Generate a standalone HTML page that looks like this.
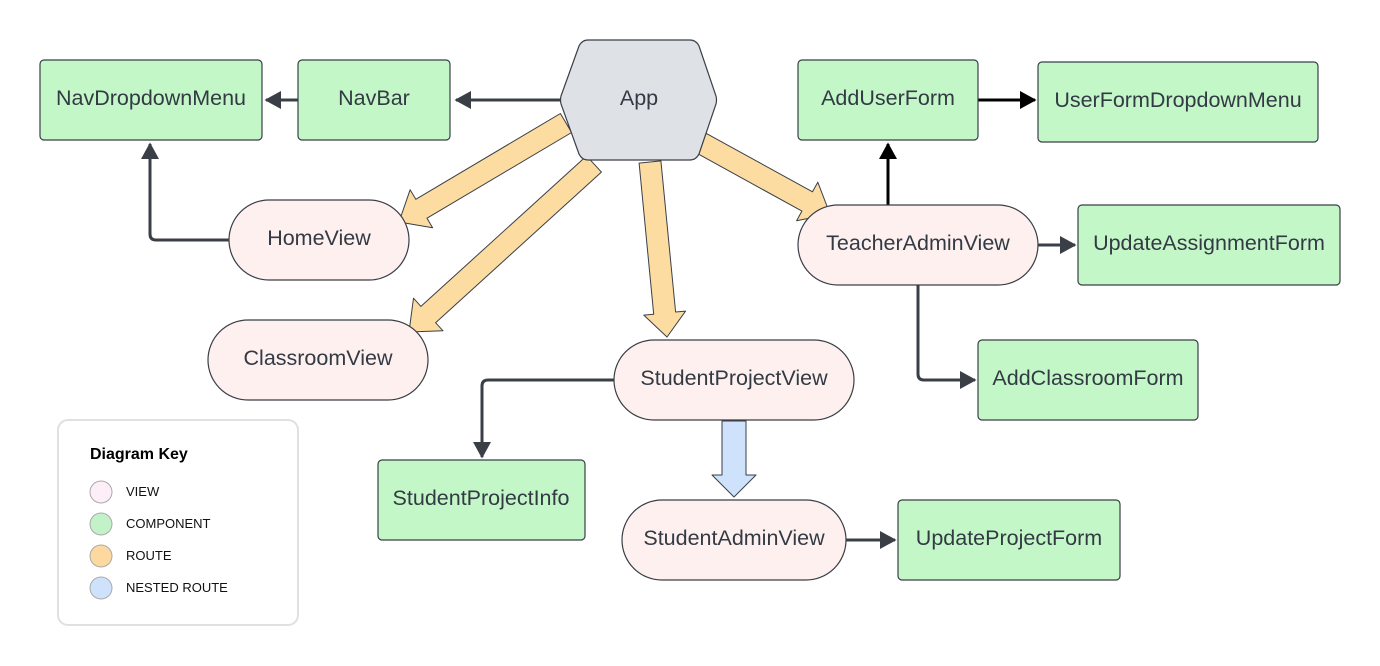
<!DOCTYPE html>
<html><head><meta charset="utf-8"><style>
html,body{margin:0;padding:0;background:#fff;width:1380px;height:666px;overflow:hidden}
svg text{font-family:"Liberation Sans",sans-serif;fill:#333a44}
</style></head><body>
<svg id="s" width="1380" height="666" viewBox="0 0 1380 666" xmlns="http://www.w3.org/2000/svg">
<defs>
<marker id="ah" markerWidth="6" markerHeight="6" refX="5" refY="3" orient="auto" markerUnits="strokeWidth"><path d="M0,0 L5.5,3 L0,6z" fill="#3a3f47"/></marker>
<marker id="ahb" markerWidth="6" markerHeight="6" refX="5" refY="3" orient="auto" markerUnits="strokeWidth"><path d="M0,0 L5.5,3 L0,6z" fill="#000"/></marker>
</defs>
<g id="routes"></g>
<g fill="none" stroke="#3a3f47" stroke-width="3">
<path d="M560 100 H456" marker-end="url(#ah)"/>
<path d="M298 100 H266" marker-end="url(#ah)"/>
<path d="M229 240 H156 Q150 240 150 234 V144" marker-end="url(#ah)"/>
<path d="M614 380 H488 Q482 380 482 386 V457" marker-end="url(#ah)"/>
<path d="M846 540 H895" marker-end="url(#ah)"/>
<path d="M1038 245 H1075" marker-end="url(#ah)"/>
<path d="M918 285 V374 Q918 380 924 380 H975" marker-end="url(#ah)"/>
<path d="M888 205 V144" stroke="#000" marker-end="url(#ahb)"/>
<path d="M978 100 H1035" stroke="#000" marker-end="url(#ahb)"/>
</g>
<g stroke="#3a3f47" stroke-width="1.2">
<path d="M561 96 L579 46 Q582 40 588 40 H690 Q696 40 699 46 L716 96 Q717 100 716 104 L699 154 Q696 160 690 160 H588 Q582 160 579 154 L561 104 Q560 100 561 96z" fill="#dee1e6"/>
<g fill="#c3f7c8">
<rect x="40" y="60" width="222" height="80" rx="4"/>
<rect x="298" y="60" width="152" height="80" rx="4"/>
<rect x="798" y="60" width="180" height="80" rx="4"/>
<rect x="1038" y="62" width="280" height="80" rx="4"/>
<rect x="1078" y="205" width="262" height="80" rx="4"/>
<rect x="978" y="340" width="220" height="80" rx="4"/>
<rect x="378" y="460" width="207" height="80" rx="4"/>
<rect x="898" y="500" width="222" height="80" rx="4"/>
</g>
<g fill="#fdf0ef">
<rect x="229" y="200" width="180" height="80" rx="40"/>
<rect x="208" y="320" width="220" height="80" rx="40"/>
<rect x="614" y="340" width="240" height="80" rx="40"/>
<rect x="622" y="500" width="224" height="80" rx="40"/>
<rect x="798" y="205" width="240" height="80" rx="40"/>
</g>
</g>
<g font-size="21.5" text-anchor="middle">
<text x="639" y="105">App</text>
<text x="151" y="105">NavDropdownMenu</text>
<text x="374" y="105">NavBar</text>
<text x="888" y="105">AddUserForm</text>
<text x="1178" y="107">UserFormDropdownMenu</text>
<text x="1209" y="250">UpdateAssignmentForm</text>
<text x="1088" y="385">AddClassroomForm</text>
<text x="481" y="505">StudentProjectInfo</text>
<text x="1009" y="545">UpdateProjectForm</text>
<text x="319" y="245">HomeView</text>
<text x="318" y="365">ClassroomView</text>
<text x="734" y="385">StudentProjectView</text>
<text x="734" y="545">StudentAdminView</text>
<text x="918" y="250">TeacherAdminView</text>
</g>
<rect x="58" y="420" width="240" height="205" rx="10" fill="#fff" stroke="#e0e0e0" stroke-width="2"/>
<text x="90" y="459" font-size="16" font-weight="bold" style="fill:#000">Diagram Key</text>
<g stroke="#aaa" stroke-width="1">
<circle cx="101" cy="492" r="11" fill="#fdeef8"/>
<circle cx="101" cy="524" r="11" fill="#c3f2c9"/>
<circle cx="101" cy="556" r="11" fill="#fdd9a0"/>
<circle cx="101" cy="588" r="11" fill="#cfe2fb"/>
</g>
<g font-size="13">
<text x="126" y="496" style="fill:#111">VIEW</text>
<text x="126" y="528" style="fill:#111">COMPONENT</text>
<text x="126" y="560" style="fill:#111">ROUTE</text>
<text x="126" y="592" style="fill:#111">NESTED ROUTE</text>
</g>
</svg>
<script>
function arrow(x1,y1,x2,y2,w,hw,hl,fill){
 var dx=x2-x1,dy=y2-y1,L=Math.hypot(dx,dy),ux=dx/L,uy=dy/L,px=-uy,py=ux;
 var bx=x2-ux*hl,by=y2-uy*hl;
 var pts=[[x1+px*w/2,y1+py*w/2],[bx+px*w/2,by+py*w/2],[bx+px*hw/2,by+py*hw/2],[x2,y2],[bx-px*hw/2,by-py*hw/2],[bx-px*w/2,by-py*w/2],[x1-px*w/2,y1-py*w/2]];
 var p=document.createElementNS("http://www.w3.org/2000/svg","polygon");
 p.setAttribute("points",pts.map(function(a){return a[0].toFixed(1)+","+a[1].toFixed(1)}).join(" "));
 p.setAttribute("fill",fill);p.setAttribute("stroke","#3a3f47");p.setAttribute("stroke-width","1");p.setAttribute("stroke-linejoin","round");
 document.getElementById("routes").appendChild(p);
}
arrow(566,123,399,222,22,44,26,"#fddca2");
arrow(594,164,409,332,22,44,26,"#fddca2");
arrow(650,162,667,337,22,42,24,"#fddca2");
arrow(701,143,830,214,22,44,26,"#fddca2");
arrow(734,421,734,497,24,44,22,"#cfe2fb");
</script>
</body></html>
